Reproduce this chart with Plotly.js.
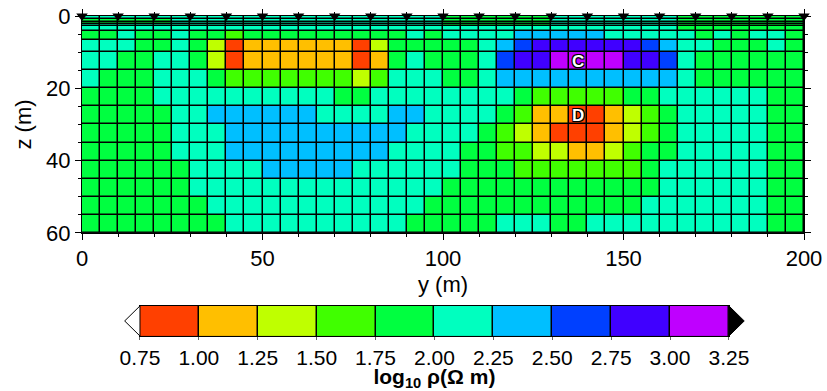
<!DOCTYPE html>
<html>
<head>
<meta charset="utf-8">
<script src="https://cdn.plot.ly/plotly-3.0.1.min.js"></script>
<style>
  html, body { margin: 0; padding: 0; background: #fff; }
  #chart { width: 827px; height: 391px; }
</style>
</head>
<body>
<div id="chart"></div>
<script>
// Mesh cell edges along the profile (y) and with depth (z), in metres
const yEdges = [0, 5, 10, 15, 20, 25, 30, 35, 40, 45, 50, 55, 60, 65, 70, 75, 80, 85, 90, 95,
                100, 105, 110, 115, 120, 125, 130, 135, 140, 145, 150, 155, 160, 165, 170, 175, 180, 185, 190, 195, 200];
const zEdges = [0, 0.85, 1.6, 2.25, 2.9, 4.1, 6.5, 10, 15, 20, 25, 30, 35, 40, 45, 50, 55, 60];

// Electrode positions on the surface (m)
const electrodes = [0, 10, 20, 30, 40, 50, 60, 70, 80, 90, 100, 110, 120, 130, 140, 150, 160, 170, 180, 190, 200];

// Colour classes of log10 resistivity
const classEdges = [0.75, 1.00, 1.25, 1.50, 1.75, 2.00, 2.25, 2.50, 2.75, 3.00, 3.25];
const classColors = ['#ff4000', '#ffbf00', '#bfff00', '#40ff00', '#00ff40',
                     '#00ffbf', '#00bfff', '#0040ff', '#4000ff', '#bf00ff'];

// log10 resistivity of each cell, one row per layer from the surface down
const logRho = [
  [2.1,2.1,2.1,2.1,2.1,2.1,2.1,2.1,2.1,2.1, 2.1,2.1,2.1,2.1,2.1,2.1,2.1,2.1,2.1,2.1, 1.9,1.9,1.9,1.9,1.9,1.9,2.1,2.1,2.1,2.1, 2.1,2.1,2.1,1.9,1.9,1.9,1.9,1.9,1.9,1.9],
  [1.9,1.9,1.9,1.9,1.9,2.1,2.1,2.1,2.1,2.1, 2.1,2.1,2.1,2.1,2.1,2.1,2.1,2.1,2.1,2.1, 1.9,1.9,1.9,1.9,1.9,1.9,2.1,2.1,2.1,2.1, 2.1,2.1,2.1,1.9,1.9,1.9,1.9,1.9,1.9,1.9],
  [1.9,1.9,1.9,1.9,1.9,2.1,2.1,2.1,2.1,2.1, 2.1,2.1,2.1,2.1,2.1,2.1,2.1,2.1,2.1,2.1, 1.9,1.9,1.9,1.9,1.9,1.9,2.1,2.1,2.1,2.1, 2.1,2.1,2.1,1.9,1.9,1.9,1.9,1.9,1.9,1.9],
  [2.1,2.1,2.1,2.1,2.1,2.1,2.1,2.1,2.1,2.1, 2.1,2.1,2.1,2.1,2.1,2.1,2.1,2.1,2.1,2.1, 1.9,1.9,1.9,1.9,1.9,1.9,2.1,2.1,2.1,2.1, 2.1,2.1,2.1,1.9,1.9,1.9,1.9,1.9,1.9,1.9],
  [2.1,2.1,2.1,2.1,2.1,2.1,2.1,2.1,2.1,2.1, 2.1,2.1,2.1,2.1,2.1,2.1,2.1,2.1,2.1,2.1, 2.1,2.1,2.1,2.1,2.1,2.1,2.1,2.1,2.1,2.1, 2.1,2.1,2.1,1.9,1.9,1.9,1.9,1.9,1.9,1.9],
  [1.9,1.9,2.1,1.9,1.9,2.1,1.9,1.9,1.6,1.9, 1.9,1.9,1.9,1.9,1.9,1.9,1.9,1.9,2.1,1.9, 2.1,2.1,2.1,2.1,2.4,2.4,2.4,2.4,2.4,2.1, 2.1,2.1,2.1,2.1,1.9,2.1,1.9,2.1,2.1,1.9],
  [2.1,2.1,2.1,1.9,1.9,2.1,1.9,1.4,0.9,1.1, 1.1,1.1,1.1,1.1,1.1,0.9,1.4,1.9,1.9,1.9, 1.9,1.9,2.1,2.4,2.6,2.9,2.9,2.9,2.9,2.9, 2.9,2.6,2.4,2.1,2.1,1.9,1.9,1.9,2.1,1.9],
  [2.1,2.1,1.9,1.9,2.1,2.1,1.9,1.4,0.9,1.1, 1.1,1.1,1.1,1.1,1.1,0.9,1.1,1.9,2.1,1.9, 1.9,1.9,2.1,2.6,2.9,2.9,3.1,3.1,3.1,3.1, 2.9,2.9,2.6,2.1,1.9,1.9,1.9,1.9,1.9,1.9],
  [2.1,1.9,1.9,1.9,2.1,2.1,2.1,1.9,1.6,1.6, 1.6,1.6,1.6,1.6,1.6,1.4,1.6,2.1,2.1,2.1, 1.9,1.9,2.1,2.4,2.4,2.4,2.4,2.4,2.4,2.4, 2.4,2.4,2.4,2.1,1.9,1.9,1.9,1.9,1.9,1.9],
  [1.9,1.9,1.9,1.9,2.1,2.1,2.1,2.1,2.1,2.1, 2.1,2.1,2.1,2.1,1.9,1.9,2.1,2.1,2.1,2.1, 2.1,2.1,2.1,2.1,1.9,1.6,1.6,1.6,1.6,1.6, 1.9,1.9,2.1,2.1,2.1,2.1,2.1,2.1,1.9,1.9],
  [1.9,1.9,1.9,1.9,1.9,2.1,2.1,2.4,2.4,2.4, 2.4,2.4,2.4,2.1,2.1,2.1,2.1,2.4,2.4,2.1, 2.1,2.1,2.1,1.9,1.6,1.1,1.1,0.9,0.9,1.1, 1.4,1.6,1.9,2.1,2.1,2.1,2.1,2.1,1.9,1.9],
  [1.9,1.9,1.9,1.9,1.9,2.1,2.1,2.1,2.4,2.4, 2.4,2.4,2.4,2.4,2.4,2.4,2.4,2.4,2.1,2.1, 2.1,2.1,1.9,1.6,1.4,1.1,0.9,0.9,0.9,1.1, 1.4,1.6,1.9,2.1,2.1,2.1,2.1,2.1,1.9,1.9],
  [1.9,1.9,1.9,1.9,1.9,2.1,2.1,2.1,2.4,2.4, 2.4,2.4,2.4,2.4,2.4,2.4,2.4,2.1,2.1,2.1, 2.1,1.9,1.9,1.6,1.6,1.4,1.4,1.1,1.1,1.4, 1.6,1.9,1.9,2.1,2.1,2.1,2.1,2.1,1.9,1.9],
  [1.9,1.9,1.9,1.9,1.9,1.9,2.1,2.1,2.1,2.1, 2.4,2.4,2.4,2.4,2.4,2.1,2.1,2.1,2.1,2.1, 2.1,1.9,1.9,1.9,1.6,1.6,1.6,1.6,1.6,1.6, 1.6,1.9,2.1,2.1,2.1,2.1,2.1,2.1,1.9,1.9],
  [1.9,1.9,1.9,1.9,1.9,1.9,2.1,2.1,2.1,2.1, 2.1,2.1,2.1,2.1,2.1,2.1,2.1,2.1,2.1,2.1, 1.9,1.9,1.9,1.9,1.9,1.9,1.9,1.9,1.9,1.9, 1.9,1.9,2.1,2.1,2.1,2.1,2.1,2.1,1.9,1.9],
  [1.9,1.9,1.9,1.9,1.9,1.9,1.9,2.1,2.1,2.1, 2.1,2.1,2.1,2.1,2.1,2.1,2.1,2.1,2.1,1.9, 1.9,1.9,1.9,1.9,1.9,1.9,1.9,1.9,1.9,1.9, 1.9,2.1,2.1,2.1,2.1,2.1,2.1,2.1,1.9,1.9],
  [1.9,1.9,1.9,1.9,1.9,1.9,1.9,1.9,2.1,2.1, 2.1,2.1,2.1,2.1,2.1,2.1,2.1,2.1,1.9,1.9, 1.9,1.9,1.9,2.1,2.1,2.1,1.9,1.9,2.1,2.1, 2.1,2.1,2.1,2.1,2.1,2.1,2.1,2.1,1.9,1.9]
];

// Anomaly labels
const labelText = ['C', 'D'];
const labelY = [137.5, 137.5];
const labelZ = [12.5, 27.5];

// ---- drawing ----
const FONT = 'Liberation Sans, Arial, Helvetica, sans-serif';
const nClass = classColors.length;
const vMin = classEdges[0];
const vMax = classEdges[nClass];

// stepped colour scale: one flat band per class
const colorscale = [];
classColors.forEach((c, i) => {
  colorscale.push([i / nClass, c]);
  colorscale.push([(i + 1) / nClass, c]);
});
const classMid = classEdges.slice(0, nClass).map((e, i) => (e + classEdges[i + 1]) / 2);

const mainYDomain = [0.322, 1];
const barXDomain = [0.0803, 0.896];
const barYDomain = [0, 0.094];
const extLen = 0.065; // length of the out-of-range arrows, in log10 units

const traces = [
  {
    type: 'heatmap', x: yEdges, y: zEdges, z: logRho,
    zmin: vMin, zmax: vMax, colorscale: colorscale, showscale: false,
    xgap: 1.5, ygap: 1.5, hoverinfo: 'skip'
  },
  {
    type: 'scatter', x: electrodes, y: electrodes.map(() => 0), mode: 'markers',
    marker: { symbol: 'triangle-down', size: 10, color: '#000' },
    cliponaxis: false, hoverinfo: 'skip', showlegend: false
  },
  {
    type: 'heatmap', x: classEdges, y: [0, 1], z: [classMid],
    xaxis: 'x2', yaxis: 'y2',
    zmin: vMin, zmax: vMax, colorscale: colorscale, showscale: false,
    xgap: 1.5, hoverinfo: 'skip'
  }
];

// out-of-range arrows at both ends of the colour bar
const toPaperX = v => barXDomain[0] + (v - vMin) / (vMax - vMin) * (barXDomain[1] - barXDomain[0]);
const yMid = (barYDomain[0] + barYDomain[1]) / 2;
const arrow = (base, tip, fill) => ({
  type: 'path', xref: 'paper', yref: 'paper',
  path: 'M' + toPaperX(base) + ',' + barYDomain[0] + ' L' + toPaperX(tip) + ',' + yMid +
        ' L' + toPaperX(base) + ',' + barYDomain[1] + ' Z',
  fillcolor: fill, line: { color: '#000', width: 1 }
});
const shapes = [
  arrow(vMin, vMin - extLen, '#ffffff'),
  arrow(vMax, vMax + extLen, '#000000')
];

const annotations = labelText.map((t, i) => ({
  x: labelY[i], y: labelZ[i], xref: 'x', yref: 'y', text: '<b>' + t + '</b>', showarrow: false,
  font: { family: FONT, size: 17, color: '#ffffff',
          shadow: '-1px -1px 0 #000, 1px -1px 0 #000, -1px 1px 0 #000, 1px 1px 0 #000' }
}));

const axisFont = { family: FONT, size: 22, color: '#000' };

const layout = {
  width: 827, height: 391,
  margin: { l: 82, r: 23, t: 16, b: 55 },
  paper_bgcolor: '#ffffff', plot_bgcolor: '#000000',
  showlegend: false,
  font: axisFont,
  xaxis: {
    domain: [0, 1], anchor: 'y', range: [0, 200],
    showline: true, linecolor: '#000', linewidth: 1, mirror: 'ticks',
    ticks: 'outside', ticklen: 6, tickcolor: '#000', dtick: 50, tick0: 0,
    minor: { dtick: 10, ticklen: 3, tickcolor: '#000', ticks: 'outside' },
    showgrid: false, zeroline: false, tickfont: axisFont,
    title: { text: 'y (m)', font: axisFont, standoff: 6 }
  },
  yaxis: {
    domain: mainYDomain, anchor: 'x', range: [60, 0],
    showline: true, linecolor: '#000', linewidth: 1, mirror: 'ticks',
    ticks: 'outside', ticklen: 6, tickcolor: '#000', dtick: 20, tick0: 0,
    minor: { dtick: 5, ticklen: 3, tickcolor: '#000', ticks: 'outside' },
    showgrid: false, zeroline: false, tickfont: axisFont,
    title: { text: 'z (m)', font: axisFont, standoff: 8 }
  },
  xaxis2: {
    domain: barXDomain, anchor: 'y2', range: [vMin, vMax],
    showline: true, linecolor: '#000', linewidth: 1, mirror: true,
    ticks: 'outside', ticklen: 3, tickcolor: '#666',
    tickvals: classEdges, ticktext: classEdges.map(v => v.toFixed(2)),
    showgrid: false, zeroline: false,
    tickfont: { family: FONT, size: 21, color: '#000' },
    title: { text: '<b>log<sub>10</sub> ρ(Ω m)</b>', font: { family: FONT, size: 21, color: '#000' }, standoff: 3 }
  },
  yaxis2: {
    domain: barYDomain, anchor: 'x2', range: [0, 1],
    showline: true, linecolor: '#000', linewidth: 1, mirror: true,
    showticklabels: false, ticks: '', showgrid: false, zeroline: false
  },
  shapes: shapes,
  annotations: annotations
};

Plotly.newPlot('chart', traces, layout, { displayModeBar: false, staticPlot: true });
</script>
</body>
</html>
